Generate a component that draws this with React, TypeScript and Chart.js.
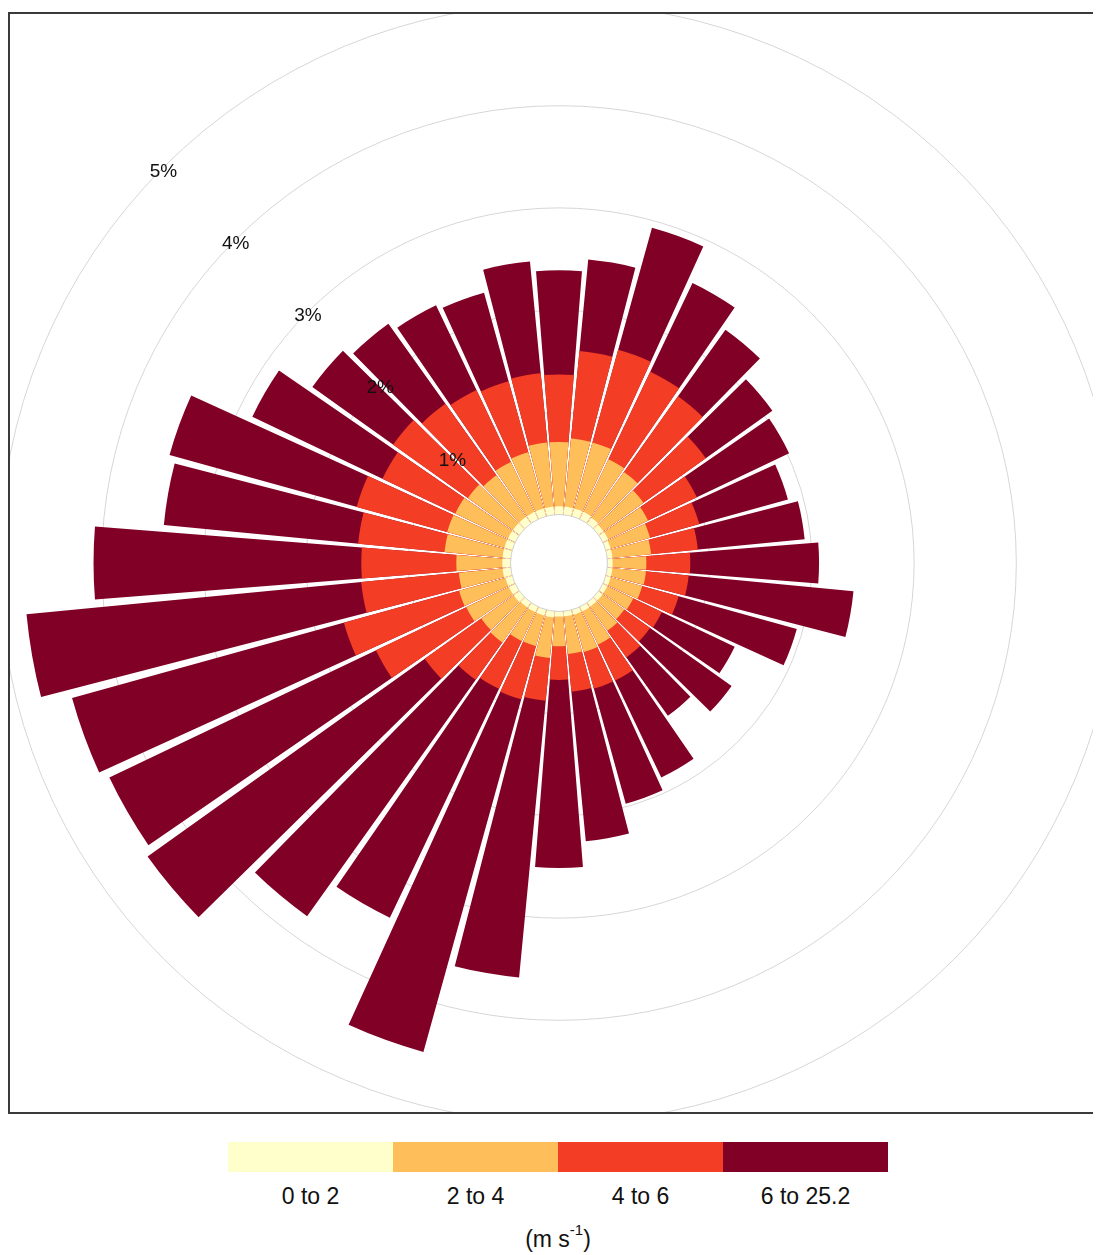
import React, { useEffect, useRef } from "react";
import { Chart, registerables } from "chart.js";

Chart.register(...registerables);

// Wind direction sectors (degrees, clockwise from north)
const directions = [0, 10, 20, 30, 40, 50, 60, 70, 80, 90, 100, 110, 120, 130, 140, 150, 160, 170,
  180, 190, 200, 210, 220, 230, 240, 250, 260, 270, 280, 290, 300, 310, 320, 330, 340, 350];

// Frequency (%) of each wind-speed band per direction
const speed0to2 = [0.08, 0.08, 0.08, 0.08, 0.07, 0.06, 0.06, 0.05, 0.05, 0.05, 0.05, 0.05, 0.05, 0.05, 0.05, 0.05, 0.05, 0.05,
  0.05, 0.06, 0.06, 0.06, 0.06, 0.07, 0.07, 0.07, 0.08, 0.08, 0.08, 0.08, 0.08, 0.08, 0.08, 0.08, 0.08, 0.08];
const speed2to4 = [0.63, 0.67, 0.67, 0.57, 0.55, 0.48, 0.43, 0.40, 0.38, 0.33, 0.33, 0.32, 0.28, 0.26, 0.29, 0.36, 0.38, 0.37,
  0.29, 0.40, 0.31, 0.31, 0.42, 0.39, 0.46, 0.47, 0.43, 0.45, 0.57, 0.58, 0.57, 0.54, 0.50, 0.54, 0.57, 0.63];
const speed4to6 = [0.66, 0.86, 0.94, 0.95, 0.91, 0.75, 0.53, 0.50, 0.46, 0.43, 0.42, 0.37, 0.31, 0.31, 0.32, 0.39, 0.37, 0.37,
  0.33, 0.42, 0.54, 0.52, 0.45, 0.68, 0.98, 1.17, 0.96, 0.93, 0.85, 0.92, 0.79, 0.90, 0.86, 0.78, 0.72, 0.68];
const speed6to25 = [1.02, 0.90, 1.24, 0.96, 0.80, 0.80, 1.00, 0.90, 1.05, 1.26, 1.62, 1.20, 0.79, 0.98, 0.70, 1.05, 1.17, 1.47,
  1.84, 2.72, 3.58, 2.48, 2.84, 3.33, 2.89, 2.76, 3.29, 2.62, 1.91, 1.90, 1.41, 0.97, 0.96, 0.92, 0.90, 1.10];

const bandLabels = ["0 to 2", "2 to 4", "4 to 6", "6 to 25.2"];
const bandColors = ["#FFFFCC", "#FEBF5A", "#F43D25", "#800026"];
const tickValues = [1, 2, 3, 4, 5];
const unitLabel = "(m s";

const BAR_DEG = 9;
const GAP_DEG = 1;
const LABEL_ANGLE = 315;
const CANVAS = 1140;
const PX_PER_PCT = 102.2;
const HOLE_PX = 48.5;
const R_MIN = -HOLE_PX / PX_PER_PCT;
const R_MAX = R_MIN + CANVAS / 2 / PX_PER_PCT;

const FONT = '"Liberation Sans", Arial, sans-serif';
const FRAME = "#3a3a3a";

export default function App() {
  const canvasRef = useRef<HTMLCanvasElement | null>(null);

  useEffect(() => {
    const bands = [speed0to2, speed2to4, speed4to6, speed6to25];
    const cumulative: number[][] = [];
    bands.forEach((band, k) => {
      cumulative.push(band.map((v, i) => v + (k > 0 ? cumulative[k - 1][i] : 0)));
    });
    const labels: string[] = [];
    directions.forEach((d) => {
      labels.push(`${d}°`);
      labels.push("");
    });

    const datasets = cumulative.map((cum, k) => ({
      label: bandLabels[k],
      data: cum.flatMap((v) => [v, 0]),
      backgroundColor: (c: any) => (c.dataIndex % 2 === 0 ? bandColors[k] : "rgba(0,0,0,0)"),
      borderWidth: 0,
      angle: (c: any) => (c.dataIndex % 2 === 0 ? BAR_DEG : GAP_DEG),
    }));

    const overlay = {
      id: "holeAndLabels",
      afterDatasetsDraw(chart: any) {
        const scale = chart.scales.r;
        const ctx = chart.ctx;
        const cx = scale.xCenter;
        const cy = scale.yCenter;
        const r0 = scale.getDistanceFromCenterForValue(0);
        ctx.save();
        ctx.beginPath();
        ctx.arc(cx, cy, r0, 0, Math.PI * 2);
        ctx.fillStyle = "#ffffff";
        ctx.fill();
        ctx.strokeStyle = "#d0d0d0";
        ctx.lineWidth = 1;
        ctx.stroke();
        ctx.font = `19px ${FONT}`;
        ctx.fillStyle = "#111111";
        ctx.textAlign = "center";
        ctx.textBaseline = "middle";
        const a = (LABEL_ANGLE * Math.PI) / 180;
        tickValues.forEach((v) => {
          const r = scale.getDistanceFromCenterForValue(v);
          ctx.fillText(`${v}%`, cx + r * Math.sin(a), cy - r * Math.cos(a) + 4);
        });
        ctx.restore();
      },
    };

    const chart = new Chart(canvasRef.current as HTMLCanvasElement, {
      type: "polarArea",
      data: { labels, datasets: datasets as any },
      options: {
        animation: false,
        responsive: false,
        plugins: { legend: { display: false }, tooltip: { enabled: false } },
        scales: {
          r: {
            type: "radialLinear",
            min: R_MIN,
            max: R_MAX,
            startAngle: -BAR_DEG / 2,
            ticks: { display: false },
            afterBuildTicks: (scale: any) => {
              scale.ticks = [0, ...tickValues].map((v) => ({ value: v }));
            },
            grid: {
              circular: true,
              lineWidth: 1,
              color: (c: any) => (c.tick && c.tick.value > 0 ? "#d6d6d6" : "rgba(0,0,0,0)"),
            },
            angleLines: { display: false },
            pointLabels: { display: false },
          } as any,
        },
      } as any,
      plugins: [overlay],
    });
    return () => chart.destroy();
  }, []);

  return (
    <div style={{ position: "relative", width: 1093, height: 1247, fontFamily: FONT, color: "#111" }}>
      <style>{"html,body{overflow:hidden}"}</style>
      <div
        style={{
          position: "absolute",
          left: 0,
          top: 4,
          width: 1093,
          height: 1102,
          overflow: "hidden",
          background: "#fff",
        }}
      >
        <canvas
          ref={canvasRef}
          width={CANVAS}
          height={CANVAS}
          style={{ position: "absolute", left: 551 - CANVAS / 2, top: 551 - CANVAS / 2, width: CANVAS, height: CANVAS }}
        />
        <div style={{ position: "absolute", left: 0, top: 0, width: 1093, height: 2, background: FRAME }} />
        <div style={{ position: "absolute", left: 0, top: 1100, width: 1093, height: 2, background: FRAME }} />
        <div style={{ position: "absolute", left: 0, top: 0, width: 2, height: 1102, background: FRAME }} />
      </div>
      <div style={{ position: "absolute", left: 220, top: 1134, width: 660, height: 30, display: "flex" }}>
        {bandColors.map((c, i) => (
          <div key={i} style={{ flex: 1, background: c }} />
        ))}
      </div>
      {bandLabels.map((t, i) => (
        <div
          key={t}
          style={{
            position: "absolute",
            left: 220 + i * 165,
            width: 165,
            top: 1174,
            height: 28,
            lineHeight: "28px",
            textAlign: "center",
            fontSize: 23,
          }}
        >
          {t}
        </div>
      ))}
      <div
        style={{
          position: "absolute",
          left: 220,
          width: 660,
          top: 1217,
          height: 28,
          lineHeight: "28px",
          textAlign: "center",
          fontSize: 23,
        }}
      >
        {unitLabel}
        <sup style={{ fontSize: 15, verticalAlign: "top", lineHeight: "15px", position: "relative", top: -3 }}>-1</sup>)
      </div>
    </div>
  );
}
